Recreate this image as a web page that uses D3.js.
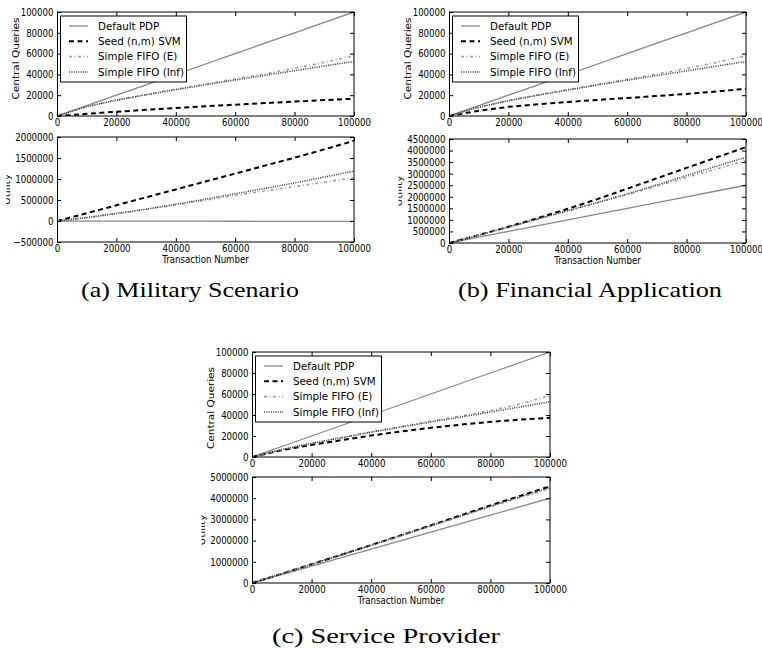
<!DOCTYPE html>
<html>
<head>
<meta charset="utf-8">
<script src="https://cdn.jsdelivr.net/npm/d3@7"></script>
<style>
  html, body { margin: 0; padding: 0; background: #fff; }
  svg { display: block; }
</style>
</head>
<body>
<svg id="fig" width="762" height="648"></svg>
<script>
// ---- data -------------------------------------------------------------
const transactions = [0, 10000, 20000, 30000, 40000, 50000, 60000, 70000, 80000, 90000, 100000];
const xTicks = [0, 20000, 40000, 60000, 80000, 100000];
const seriesNames = ["Default PDP", "Seed (n,m) SVM", "Simple FIFO (E)", "Simple FIFO (Inf)"];

const queryTicks = [0, 20000, 40000, 60000, 80000, 100000];
const milUtilTicks = [-500000, 0, 500000, 1000000, 1500000, 2000000];
const finUtilTicks = [0, 500000, 1000000, 1500000, 2000000, 2500000, 3000000, 3500000, 4000000, 4500000];
const svcUtilTicks = [0, 1000000, 2000000, 3000000, 4000000, 5000000];

// (a) Military Scenario
const milQueriesDefault = [0, 10000, 20000, 30000, 40000, 50000, 60000, 70000, 80000, 90000, 100000];
const milQueriesSeed    = [0, 2100, 4100, 5900, 7600, 9300, 10900, 12400, 13900, 15300, 16600];
const milQueriesFifoE   = [0, 9000, 15300, 20700, 25800, 30700, 35600, 40600, 45800, 51600, 58000];
const milQueriesFifoInf = [0, 9000, 15200, 20400, 25300, 30000, 34600, 39100, 43600, 48100, 52500];
const milUtilDefault = [0, -1000, -2000, -3000, -4000, -5000, -6000, -7000, -8000, -9000, -10000];
const milUtilSeed    = [0, 185000, 375000, 565000, 752000, 940000, 1128000, 1318000, 1508000, 1705000, 1910000];
const milUtilFifoE   = [0, 82000, 175000, 275000, 385000, 495000, 610000, 715000, 820000, 925000, 1030000];
const milUtilFifoInf = [0, 82000, 178000, 282000, 398000, 520000, 648000, 775000, 905000, 1045000, 1190000];

// (b) Financial Application
const finQueriesDefault = [0, 10000, 20000, 30000, 40000, 50000, 60000, 70000, 80000, 90000, 100000];
const finQueriesSeed    = [0, 5000, 8800, 11300, 13500, 15500, 17300, 19200, 21200, 23600, 26200];
const finQueriesFifoE   = [0, 8500, 14800, 20300, 25400, 30400, 35400, 40400, 45600, 51500, 58000];
const finQueriesFifoInf = [0, 8500, 14700, 20000, 25000, 29800, 34400, 38900, 43400, 47900, 52400];
const finUtilDefault = [0, 250000, 500000, 750000, 1000000, 1250000, 1500000, 1750000, 2000000, 2250000, 2500000];
const finUtilSeed    = [0, 345000, 700000, 1080000, 1480000, 1900000, 2350000, 2800000, 3250000, 3700000, 4150000];
const finUtilFifoE   = [0, 340000, 685000, 1035000, 1385000, 1735000, 2095000, 2465000, 2840000, 3200000, 3570000];
const finUtilFifoInf = [0, 340000, 690000, 1045000, 1400000, 1760000, 2125000, 2510000, 2920000, 3320000, 3710000];

// (c) Service Provider
const svcQueriesDefault = [0, 10000, 20000, 30000, 40000, 50000, 60000, 70000, 80000, 90000, 100000];
const svcQueriesSeed    = [0, 6500, 11500, 16000, 20500, 24300, 27800, 30800, 33500, 35600, 37400];
const svcQueriesFifoE   = [0, 7000, 13000, 18500, 24000, 29000, 34000, 39000, 44200, 50500, 58500];
const svcQueriesFifoInf = [0, 7000, 13000, 18300, 23600, 28500, 33300, 38000, 42800, 47700, 52600];
const svcUtilDefault = [0, 400000, 800000, 1200000, 1600000, 2000000, 2400000, 2800000, 3200000, 3600000, 4000000];
const svcUtilSeed    = [0, 440000, 885000, 1335000, 1790000, 2250000, 2720000, 3190000, 3660000, 4110000, 4560000];
const svcUtilFifoE   = [0, 440000, 880000, 1325000, 1775000, 2225000, 2685000, 3140000, 3590000, 4030000, 4450000];
const svcUtilFifoInf = [0, 440000, 882000, 1330000, 1782000, 2238000, 2703000, 3165000, 3625000, 4075000, 4510000];

const captions = ["(a) Military Scenario", "(b) Financial Application", "(c) Service Provider"];

// ---- styling ----------------------------------------------------------
const lineStyles = [
  { color: "#888888", width: 1.3, dash: null },
  { color: "#000000", width: 2.0, dash: "5,3.5" },
  { color: "#a0a0a0", width: 1.6, dash: "3,2.5,1,2.5" },
  { color: "#333333", width: 1.5, dash: "1,1.3" }
];
const SANS = "DejaVu Sans";
const SQUEEZE = 0.82;   // horizontal squeeze applied to axis text

// ---- layout -----------------------------------------------------------
const panels = [
  { x0: 57,  x1: 354, y0: 12,  y1: 116, domain: [0, 100000], ticks: queryTicks,
    data: [milQueriesDefault, milQueriesSeed, milQueriesFifoE, milQueriesFifoInf],
    ylabel: "Central Queries", ylabelY: 58.5, legend: true },
  { x0: 57,  x1: 354, y0: 137, y1: 242, domain: [-500000, 2000000], ticks: milUtilTicks,
    data: [milUtilDefault, milUtilSeed, milUtilFifoE, milUtilFifoInf],
    ylabel: "Utility", clipLabel: true, xlabel: true },
  { x0: 449, x1: 746, y0: 12,  y1: 116, domain: [0, 100000], ticks: queryTicks,
    data: [finQueriesDefault, finQueriesSeed, finQueriesFifoE, finQueriesFifoInf],
    ylabel: "Central Queries", ylabelY: 58.5, legend: true },
  { x0: 449, x1: 746, y0: 139, y1: 243, domain: [0, 4500000], ticks: finUtilTicks,
    data: [finUtilDefault, finUtilSeed, finUtilFifoE, finUtilFifoInf],
    ylabel: "Utility", clipLabel: true, xlabel: true },
  { x0: 252, x1: 550, y0: 352, y1: 457, domain: [0, 100000], ticks: queryTicks,
    data: [svcQueriesDefault, svcQueriesSeed, svcQueriesFifoE, svcQueriesFifoInf],
    ylabel: "Central Queries", ylabelY: 408, legend: true },
  { x0: 252, x1: 550, y0: 477, y1: 583, domain: [0, 5000000], ticks: svcUtilTicks,
    data: [svcUtilDefault, svcUtilSeed, svcUtilFifoE, svcUtilFifoInf],
    ylabel: "Utility", clipLabel: true, xlabel: true }
];

const captionPos = [
  { x: 190, y: 297, w: 218 },
  { x: 590, y: 297, w: 264 },
  { x: 386, y: 643, w: 228 }
];

const svg = d3.select("#fig");
const defs = svg.append("defs");
const fmt = d3.format("d");

function styleLine(sel, s) {
  sel.attr("fill", "none")
    .attr("stroke", s.color)
    .attr("stroke-width", s.width)
    .attr("stroke-dasharray", s.dash);
}

function styleAxisText(g) {
  g.selectAll("text")
    .attr("font-family", SANS)
    .attr("font-size", 10.5)
    .attr("fill", "#000");
}

panels.forEach((p, pi) => {
  const x = d3.scaleLinear().domain([0, 100000]).range([p.x0, p.x1]);
  const y = d3.scaleLinear().domain(p.domain).range([p.y1, p.y0]);
  const g = svg.append("g");

  const clipId = "clip" + pi;
  defs.append("clipPath").attr("id", clipId)
    .append("rect").attr("x", p.x0).attr("y", p.y0)
    .attr("width", p.x1 - p.x0).attr("height", p.y1 - p.y0);

  // series
  const line = d3.line().x((d, i) => x(transactions[i])).y(d => y(d));
  const plot = g.append("g").attr("clip-path", `url(#${clipId})`);
  p.data.forEach((vals, si) => {
    plot.append("path").datum(vals).attr("d", line).call(styleLine, lineStyles[si]);
  });

  // inward ticks on all four sides
  const left = g.append("g").attr("transform", `translate(${p.x0},0)`)
    .call(d3.axisLeft(y).tickValues(p.ticks).tickSizeInner(-4).tickSizeOuter(0)
      .tickPadding(3.5).tickFormat(fmt));
  left.select(".domain").remove();
  styleAxisText(left);
  left.selectAll("text")
    .attr("x", -3.5 / SQUEEZE)
    .attr("transform", `scale(${SQUEEZE},1)`);

  const right = g.append("g").attr("transform", `translate(${p.x1},0)`)
    .call(d3.axisRight(y).tickValues(p.ticks).tickSizeInner(-4).tickSizeOuter(0).tickFormat(""));
  right.select(".domain").remove();

  const bottom = g.append("g").attr("transform", `translate(0,${p.y1})`)
    .call(d3.axisBottom(x).tickValues(xTicks).tickSizeInner(-4).tickSizeOuter(0)
      .tickPadding(3).tickFormat(fmt));
  bottom.select(".domain").remove();
  styleAxisText(bottom);
  bottom.selectAll("text").attr("transform", `scale(${SQUEEZE},1)`);

  const top = g.append("g").attr("transform", `translate(0,${p.y0})`)
    .call(d3.axisTop(x).tickValues(xTicks).tickSizeInner(-4).tickSizeOuter(0).tickFormat(""));
  top.select(".domain").remove();

  g.selectAll(".tick line").attr("stroke", "#000").attr("stroke-width", 1);

  // frame
  g.append("line").attr("x1", p.x0 + 0.5).attr("x2", p.x0 + 0.5)
    .attr("y1", p.y0).attr("y2", p.y1).attr("stroke", "#000").attr("stroke-width", 1);
  g.append("line").attr("x1", p.x1).attr("x2", p.x1)
    .attr("y1", p.y0).attr("y2", p.y1).attr("stroke", "#000").attr("stroke-width", 1);
  g.append("line").attr("x1", p.x0).attr("x2", p.x1)
    .attr("y1", p.y0).attr("y2", p.y0).attr("stroke", "#000").attr("stroke-width", 1);
  g.append("line").attr("x1", p.x0).attr("x2", p.x1)
    .attr("y1", p.y1).attr("y2", p.y1).attr("stroke", "#000").attr("stroke-width", 1);

  // y label (the utility label is cut at the left edge of its sub-figure)
  if (p.clipLabel) {
    const lid = "lab" + pi;
    defs.append("clipPath").attr("id", lid)
      .append("rect").attr("x", p.x0 - 50.5).attr("y", p.y0)
      .attr("width", 12).attr("height", p.y1 - p.y0);
    const lg = g.append("g").attr("clip-path", `url(#${lid})`);
    lg.append("text")
      .attr("transform", `translate(${p.x0 - 47},${(p.y0 + p.y1) / 2}) scale(${SQUEEZE},1) rotate(-90)`)
      .attr("font-family", SANS).attr("font-size", 10.5)
      .attr("text-anchor", "middle").attr("fill", "#000")
      .text(p.ylabel);
  } else {
    g.append("text")
      .attr("transform", `translate(${p.x0 - 38.5},${p.ylabelY}) scale(${SQUEEZE},1) rotate(-90)`)
      .attr("font-family", SANS).attr("font-size", 10.5)
      .attr("text-anchor", "middle").attr("fill", "#000")
      .text(p.ylabel);
  }

  // x label
  if (p.xlabel) {
    g.append("text")
      .attr("transform", `translate(${(p.x0 + p.x1) / 2},${p.y1 + 17}) scale(${SQUEEZE},1)`)
      .attr("font-family", SANS).attr("font-size", 10.5)
      .attr("text-anchor", "middle").attr("dy", "0.35em").attr("fill", "#000")
      .text("Transaction Number");
  }

  // legend
  if (p.legend) {
    const lx = p.x0 + 3, ly = p.y0 + 3.5;
    const lg = g.append("g").attr("transform", `translate(${lx},${ly})`);
    lg.append("rect").attr("x", 0.5).attr("y", 0.5).attr("width", 126).attr("height", 66)
      .attr("fill", "#fff").attr("stroke", "#000").attr("stroke-width", 1);
    const rowY = d3.scalePoint().domain(seriesNames).range([10.5, 56.5]);
    seriesNames.forEach((name, si) => {
      const yy = rowY(name);
      lg.append("line").attr("x1", 9).attr("x2", 28).attr("y1", yy).attr("y2", yy)
        .call(styleLine, lineStyles[si]);
      lg.append("text").attr("x", 38).attr("y", yy).attr("dy", "0.35em")
        .attr("font-family", SANS).attr("font-size", 10.3).attr("fill", "#000")
        .text(name);
    });
  }
});

// sub-figure captions
captions.forEach((c, i) => {
  const cp = captionPos[i];
  svg.append("text")
    .attr("x", cp.x).attr("y", cp.y)
    .attr("text-anchor", "middle")
    .attr("font-family", "Liberation Serif").attr("font-size", 21)
    .attr("textLength", cp.w).attr("lengthAdjust", "spacingAndGlyphs")
    .attr("fill", "#000")
    .text(c);
});
</script>
</body>
</html>
